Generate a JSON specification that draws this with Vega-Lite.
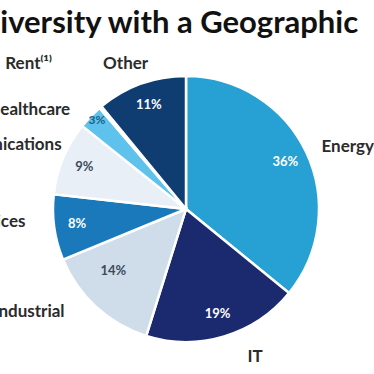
{
  "$schema": "https://vega.github.io/schema/vega-lite/v6.json",
  "autosize": "none",
  "width": 372,
  "height": 330,
  "padding": {"left": 0, "top": 44, "right": 2, "bottom": 0},
  "background": "white",
  "config": {"view": {"stroke": null}},
  "title": {
    "text": "Diversity with a Geographic",
    "anchor": "start",
    "frame": "group",
    "orient": "top",
    "baseline": "alphabetic",
    "offset": -42,
    "dx": -23,
    "font": "Lato",
    "fontSize": 31,
    "fontWeight": "bold",
    "color": "#111111"
  },
  "data": {
    "values": [
      {"category": "Energy", "value": 36, "pct": "36%", "rank": 1},
      {"category": "IT", "value": 19, "pct": "19%", "rank": 2},
      {"category": "Industrial", "value": 14, "pct": "14%", "rank": 3},
      {"category": "Services", "value": 8, "pct": "8%", "rank": 4},
      {"category": "Communications", "value": 9, "pct": "9%", "rank": 5},
      {"category": "Healthcare", "value": 3, "pct": "3%", "rank": 6},
      {"category": "Rent⁽¹⁾", "value": 0.3, "pct": "", "rank": 7},
      {"category": "Other", "value": 11, "pct": "11%", "rank": 8}
    ]
  },
  "layer": [
    {
      "mark": {"type": "arc", "outerRadius": 133, "stroke": "white", "strokeWidth": 2.5},
      "encoding": {
        "theta": {"field": "value", "type": "quantitative", "stack": true},
        "order": {"field": "rank", "type": "quantitative"},
        "color": {
          "field": "category",
          "type": "nominal",
          "legend": null,
          "scale": {
            "domain": ["Energy", "IT", "Industrial", "Services", "Communications", "Healthcare", "Rent⁽¹⁾", "Other"],
            "range": ["#27a0d4", "#1b2a6e", "#cfdcea", "#1a79bb", "#e9eff6", "#5ec2ec", "#9ec9e2", "#0f3d72"]
          }
        }
      }
    },
    {
      "mark": {"type": "text", "radius": 110, "font": "Lato", "fontSize": 13, "fontWeight": "bold"},
      "encoding": {
        "theta": {"field": "value", "type": "quantitative", "stack": true},
        "order": {"field": "rank", "type": "quantitative"},
        "detail": {"field": "category", "type": "nominal"},
        "text": {"condition": {"test": "indexof(['Industrial','Healthcare'], datum.category) < 0", "field": "pct"}, "value": ""},
        "color": {
          "condition": {"test": "datum.category == 'Communications'", "value": "#3d4a5c"},
          "value": "white"
        }
      }
    },
    {
      "mark": {"type": "text", "radius": 100, "dx": -5, "dy": -12, "font": "Lato", "fontSize": 13, "fontWeight": "bold", "color": "#3d4a5c"},
      "encoding": {
        "theta": {"field": "value", "type": "quantitative", "stack": true},
        "order": {"field": "rank", "type": "quantitative"},
        "detail": {"field": "category", "type": "nominal"},
        "text": {"condition": {"test": "datum.category == 'Industrial'", "field": "pct"}, "value": ""}
      }
    },
    {
      "mark": {"type": "text", "radius": 124, "dy": -3, "font": "Lato", "fontSize": 12, "fontWeight": "bold", "color": "#1d5f8a"},
      "encoding": {
        "theta": {"field": "value", "type": "quantitative", "stack": true},
        "order": {"field": "rank", "type": "quantitative"},
        "detail": {"field": "category", "type": "nominal"},
        "text": {"condition": {"test": "datum.category == 'Healthcare'", "field": "pct"}, "value": ""}
      }
    },
    {
      "mark": {"type": "text", "radius": 150, "align": "left", "dy": 2, "font": "Lato", "fontSize": 17, "fontWeight": "bold", "color": "#2b2b2b"},
      "encoding": {
        "theta": {"field": "value", "type": "quantitative", "stack": true},
        "order": {"field": "rank", "type": "quantitative"},
        "detail": {"field": "category", "type": "nominal"},
        "text": {"condition": {"test": "datum.category == 'Energy'", "field": "category"}, "value": ""}
      }
    },
    {
      "mark": {"type": "text", "radius": 150, "align": "center", "dx": 26, "dy": 4, "font": "Lato", "fontSize": 17, "fontWeight": "bold", "color": "#2b2b2b"},
      "encoding": {
        "theta": {"field": "value", "type": "quantitative", "stack": true},
        "order": {"field": "rank", "type": "quantitative"},
        "detail": {"field": "category", "type": "nominal"},
        "text": {"condition": {"test": "datum.category == 'IT'", "field": "category"}, "value": ""}
      }
    },
    {
      "mark": {"type": "text", "radius": 150, "align": "right", "dx": -20, "dy": -8, "font": "Lato", "fontSize": 17, "fontWeight": "bold", "color": "#2b2b2b"},
      "encoding": {
        "theta": {"field": "value", "type": "quantitative", "stack": true},
        "order": {"field": "rank", "type": "quantitative"},
        "detail": {"field": "category", "type": "nominal"},
        "text": {"condition": {"test": "datum.category == 'Industrial'", "field": "category"}, "value": ""}
      }
    },
    {
      "mark": {"type": "text", "radius": 150, "align": "right", "dx": -12, "dy": -8, "font": "Lato", "fontSize": 17, "fontWeight": "bold", "color": "#2b2b2b"},
      "encoding": {
        "theta": {"field": "value", "type": "quantitative", "stack": true},
        "order": {"field": "rank", "type": "quantitative"},
        "detail": {"field": "category", "type": "nominal"},
        "text": {"condition": {"test": "datum.category == 'Services'", "field": "category"}, "value": ""}
      }
    },
    {
      "mark": {"type": "text", "radius": 140, "align": "right", "dx": 5, "dy": -10, "font": "Lato", "fontSize": 17, "fontWeight": "bold", "color": "#2b2b2b"},
      "encoding": {
        "theta": {"field": "value", "type": "quantitative", "stack": true},
        "order": {"field": "rank", "type": "quantitative"},
        "detail": {"field": "category", "type": "nominal"},
        "text": {"condition": {"test": "datum.category == 'Communications'", "field": "category"}, "value": ""}
      }
    },
    {
      "mark": {"type": "text", "radius": 150, "align": "right", "dx": -8, "dy": 5, "font": "Lato", "fontSize": 17, "fontWeight": "bold", "color": "#2b2b2b"},
      "encoding": {
        "theta": {"field": "value", "type": "quantitative", "stack": true},
        "order": {"field": "rank", "type": "quantitative"},
        "detail": {"field": "category", "type": "nominal"},
        "text": {"condition": {"test": "datum.category == 'Healthcare'", "field": "category"}, "value": ""}
      }
    },
    {
      "mark": {"type": "text", "radius": 190, "align": "right", "dx": -12, "dy": 1, "font": "Lato", "fontSize": 17, "fontWeight": "bold", "color": "#2b2b2b"},
      "encoding": {
        "theta": {"field": "value", "type": "quantitative", "stack": true},
        "order": {"field": "rank", "type": "quantitative"},
        "detail": {"field": "category", "type": "nominal"},
        "text": {"condition": {"test": "datum.category == 'Rent⁽¹⁾'", "field": "category"}, "value": ""}
      }
    },
    {
      "mark": {"type": "text", "radius": 155, "align": "center", "dx": -8, "dy": 1, "font": "Lato", "fontSize": 17, "fontWeight": "bold", "color": "#2b2b2b"},
      "encoding": {
        "theta": {"field": "value", "type": "quantitative", "stack": true},
        "order": {"field": "rank", "type": "quantitative"},
        "detail": {"field": "category", "type": "nominal"},
        "text": {"condition": {"test": "datum.category == 'Other'", "field": "category"}, "value": ""}
      }
    }
  ]
}
